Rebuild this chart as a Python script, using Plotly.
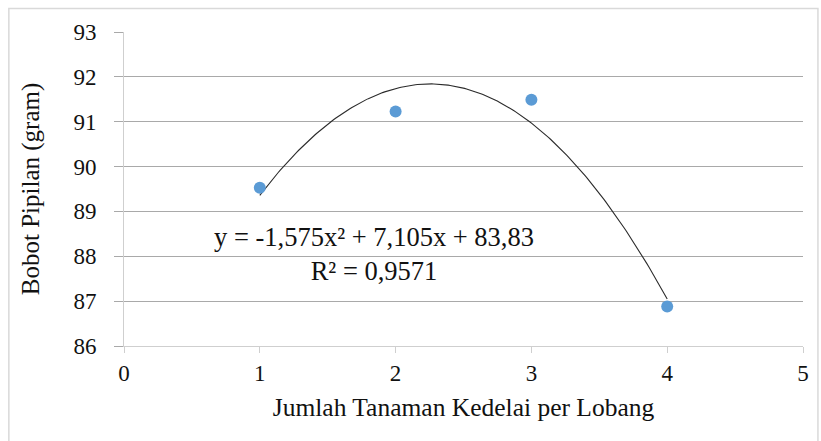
import numpy as np
import plotly.graph_objects as go

# Observed data
jumlah_tanaman = [1, 2, 3, 4]
bobot_pipilan = [89.53, 91.23, 91.49, 86.88]

# Polynomial (order 2) trendline coefficients: a*x^2 + b*x + c
coef_a, coef_b, coef_c = -1.575, 7.105, 83.83
r_squared = "0,9571"

x_ticks = [0, 1, 2, 3, 4, 5]
y_ticks = [86, 87, 88, 89, 90, 91, 92, 93]

FONT = "Liberation Serif, Times New Roman, serif"
GRID = "#a9a9a9"
AXIS = "#cfcfcf"

xt = np.linspace(min(jumlah_tanaman), max(jumlah_tanaman), 200)
yt = coef_a * xt**2 + coef_b * xt + coef_c

fig = go.Figure()
fig.add_trace(go.Scatter(
    x=xt, y=yt, mode="lines",
    line=dict(color="#2b2b2b", width=1.1),
    hoverinfo="skip", showlegend=False,
))
fig.add_trace(go.Scatter(
    x=jumlah_tanaman, y=bobot_pipilan, mode="markers",
    marker=dict(color="#5b9bd5", size=12),
    showlegend=False,
))

eq_text = "y = -1,575x² + 7,105x + 83,83<br>R² = " + r_squared
fig.add_annotation(
    x=1.84, y=88.05, xref="x", yref="y", text=eq_text,
    showarrow=False, align="center",
    font=dict(family=FONT, size=26.5, color="#111111"),
)

# outer chart frame
fig.add_shape(
    type="rect", xref="paper", yref="paper",
    x0=-0.1696, x1=1.022, y0=-0.4, y1=1.0748,
    line=dict(color="#d9d9d9", width=1.5), fillcolor="rgba(0,0,0,0)",
    layer="below",
)

fig.update_layout(
    width=821, height=441,
    margin=dict(l=124, r=16, t=32, b=95),
    paper_bgcolor="white", plot_bgcolor="white",
    font=dict(family=FONT, color="#111111"),
)
fig.update_xaxes(
    range=[0, 5], tickvals=x_ticks, showgrid=False, zeroline=False,
    showline=True, linecolor=AXIS, linewidth=1,
    ticks="outside", ticklen=6, tickcolor=AXIS,
    tickfont=dict(family=FONT, size=23, color="#111111"),
    title=dict(text="Jumlah Tanaman Kedelai per Lobang",
               font=dict(family=FONT, size=25.5, color="#111111"), standoff=13),
)
fig.update_yaxes(
    range=[86, 93], tickvals=y_ticks, showgrid=True, gridcolor=GRID, gridwidth=1,
    zeroline=False, showline=True, linecolor=AXIS, linewidth=1,
    ticks="outside", ticklen=9, tickcolor=GRID,
    ticklabelstandoff=13,
    tickfont=dict(family=FONT, size=23, color="#111111"),
    title=dict(text="Bobot Pipilan (gram)",
               font=dict(family=FONT, size=25, color="#111111"), standoff=26),
)

fig.write_html("out.html")
